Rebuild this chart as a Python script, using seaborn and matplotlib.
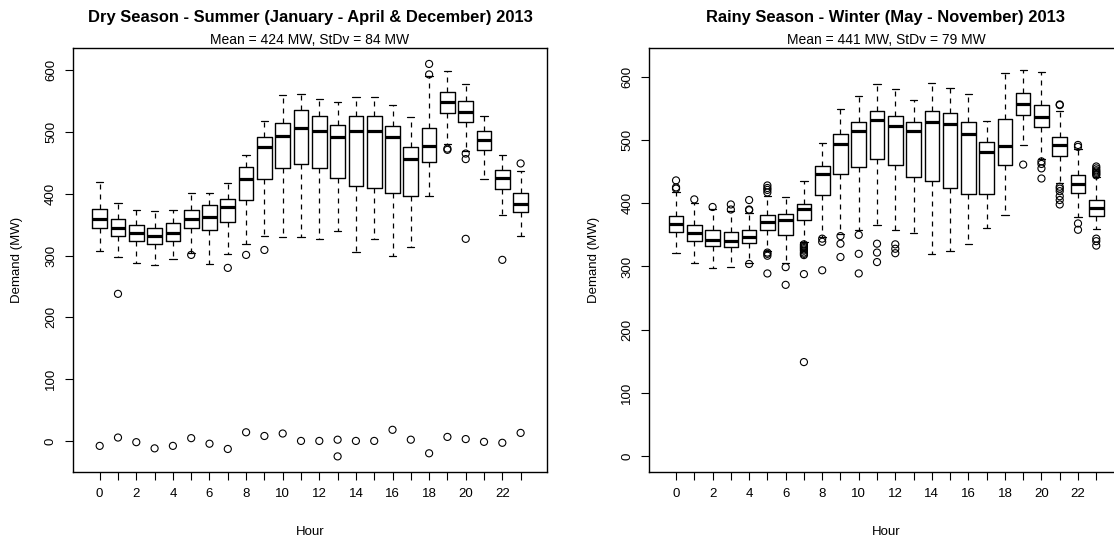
import matplotlib
matplotlib.use("Agg")
import matplotlib.pyplot as plt
import seaborn as sns
import pandas as pd

# ---------------- data ----------------
hours = list(range(24))
hour_labels = [str(h) if h % 2 == 0 else "" for h in hours]

dry_title = "Dry Season - Summer (January - April & December) 2013"
dry_subtitle = "Mean = 424 MW, StDv = 84 MW"
dry_whislo = [307, 298, 288, 284, 294, 304, 286, 302, 319, 331, 330, 330,
              326, 340, 306, 326, 299, 313, 397, 481, 469, 424, 366, 331]
dry_q1 = [345, 331, 323, 318, 324, 345, 342, 355, 390, 424, 441, 448,
          441, 425, 412, 409, 401, 396, 452, 531, 516, 470, 408, 370]
dry_med = [358.5, 345, 336, 332, 336, 359, 362, 378, 424, 475, 494, 507,
           501, 491, 501, 502, 492, 456, 478, 548, 532, 487, 425, 384]
dry_q3 = [376, 359, 350, 345, 352, 373, 381, 391, 444, 491, 515, 535,
          526, 511, 525, 525, 510, 476, 507, 565, 550, 502, 438, 401]
dry_whishi = [419, 385, 374, 372, 374, 401, 401, 417, 462, 518, 559, 561,
              554, 549, 556, 557, 543, 524, 590, 599, 577, 525, 462, 436]
dry_fliers = [[-8], [238, 5.5], [-2], [-12], [-8], [301, 4.5], [-4.5],
              [280, -13], [301, 14], [309, 8], [12], [0], [0], [2, -25], [0],
              [0], [18], [2], [610, 593, -20], [473, 471, 6.5],
              [465, 456, 327, 3], [-1.5], [293, -3], [449, 13]]

rainy_title = "Rainy Season - Winter (May - November) 2013"
rainy_subtitle = "Mean = 441 MW, StDv = 79 MW"
rainy_whislo = [322, 306, 298, 299, 306, 325, 306, 338, 347, 352, 358, 365,
                357, 353, 320, 324, 335, 361, 381, 492, 470, 432, 378, 360]
rainy_q1 = [355, 340, 333, 331, 337, 358, 350, 374, 413, 446, 457, 470,
            461, 442, 435, 424, 415, 415, 461, 540, 520, 475, 416, 380]
rainy_med = [367, 353, 342, 340, 346, 371, 373, 391, 446, 493, 514, 532,
             522, 514, 529, 525, 510, 481, 491, 557, 536, 492, 431, 392]
rainy_q3 = [380, 365, 357, 354, 357, 381, 383, 399, 459, 509, 528, 545,
            537, 528, 545, 543, 528, 496, 533, 574, 555, 505, 444, 405]
rainy_whishi = [417, 400, 391, 388, 384, 412, 410, 435, 495, 549, 570, 588,
                581, 563, 590, 582, 573, 530, 605, 611, 608, 546, 486, 442]
rainy_fliers = [[423, 425, 436], [406], [394], [390, 398],
                [304, 389, 390, 405],
                [322, 320, 317, 289, 417, 421, 424, 428], [299, 271],
                [335, 333, 331, 329, 327, 325, 322, 320, 318, 288, 149],
                [344, 339, 294], [348, 336, 315], [350, 320, 289],
                [336, 322, 307], [335, 328, 321], [], [], [], [], [], [],
                [461], [466, 462, 455, 439],
                [556, 555, 426, 423, 419, 411, 405, 398],
                [492, 489, 368, 358],
                [458, 455, 452, 450, 448, 446, 444, 344, 340, 333]]

y_ticks = [0, 100, 200, 300, 400, 500, 600]
x_label = "Hour"
y_label = "Demand (MW)"

# ---------------- style ----------------
sns.set_theme(style="ticks")
plt.rcParams["font.family"] = ["Liberation Sans", "DejaVu Sans"]
plt.rcParams["axes.linewidth"] = 1.0
plt.rcParams["axes.edgecolor"] = "black"
plt.rcParams["text.color"] = "black"
plt.rcParams["axes.labelcolor"] = "black"
plt.rcParams["xtick.color"] = "black"
plt.rcParams["ytick.color"] = "black"

fig = plt.figure(figsize=(11.14, 5.42), dpi=100)
ax_l = fig.add_axes([0.0655, 0.129, 0.4255, 0.782])
ax_r = fig.add_axes([0.5829, 0.129, 0.4248, 0.782])


def draw_panel(ax, title, subtitle, lo, q1, med, q3, hi, fliers, ylim):
    stats = []
    for i in range(len(hours)):
        stats.append(dict(whislo=lo[i], q1=q1[i], med=med[i], q3=q3[i],
                          whishi=hi[i], fliers=[]))
    ax.bxp(stats, positions=hours, widths=0.8, capwidths=0.4,
           showfliers=False, patch_artist=False,
           boxprops=dict(color="black", linewidth=1.0),
           medianprops=dict(color="black", linewidth=2.3, solid_capstyle="butt"),
           whiskerprops=dict(color="black", linewidth=0.9,
                             linestyle=(0, (4, 4))),
           capprops=dict(color="black", linewidth=0.9))
    fx, fy = [], []
    for h, vals in zip(hours, fliers):
        for v in vals:
            fx.append(h)
            fy.append(v)
    df = pd.DataFrame({"Hour": fx, "Demand": fy})
    sns.scatterplot(data=df, x="Hour", y="Demand", ax=ax, marker="o", s=26,
                    facecolor="none", edgecolor="black", linewidth=0.8,
                    zorder=3)
    ax.set_xlim(-1.46, 24.44)
    ax.set_ylim(*ylim)
    ax.set_xticks(hours)
    ax.set_xticklabels(hour_labels)
    ax.set_yticks(y_ticks)
    ax.set_yticklabels([str(t) for t in y_ticks])
    ax.tick_params(axis="both", direction="out", length=5.5, width=0.8,
                   colors="black", labelsize=9.5)
    ax.tick_params(axis="x", pad=6)
    ax.tick_params(axis="y", pad=6, labelrotation=90)
    for t in ax.get_yticklabels():
        t.set_verticalalignment("center")
    for s in ax.spines.values():
        s.set_visible(True)
        s.set_color("black")
        s.set_linewidth(1.0)
    ax.set_xlabel(x_label, fontsize=9.5, color="black")
    ax.set_ylabel(y_label, fontsize=9.5, color="black")
    ax.xaxis.set_label_coords(0.5, -0.127)
    ax.yaxis.set_label_coords(-0.105, 0.5)
    ax.text(0.5, 1.063, title, transform=ax.transAxes, ha="center",
            va="baseline", fontsize=11.9, fontweight="bold", color="black")
    ax.text(0.5, 1.010, subtitle, transform=ax.transAxes, ha="center",
            va="baseline", fontsize=10, color="black")
    ax.grid(False)


draw_panel(ax_l, dry_title, dry_subtitle, dry_whislo, dry_q1, dry_med,
           dry_q3, dry_whishi, dry_fliers, (-50.4, 635.4))
draw_panel(ax_r, rainy_title, rainy_subtitle, rainy_whislo, rainy_q1,
           rainy_med, rainy_q3, rainy_whishi, rainy_fliers, (-24.8, 644.8))

fig.savefig("out.png", dpi=100)
